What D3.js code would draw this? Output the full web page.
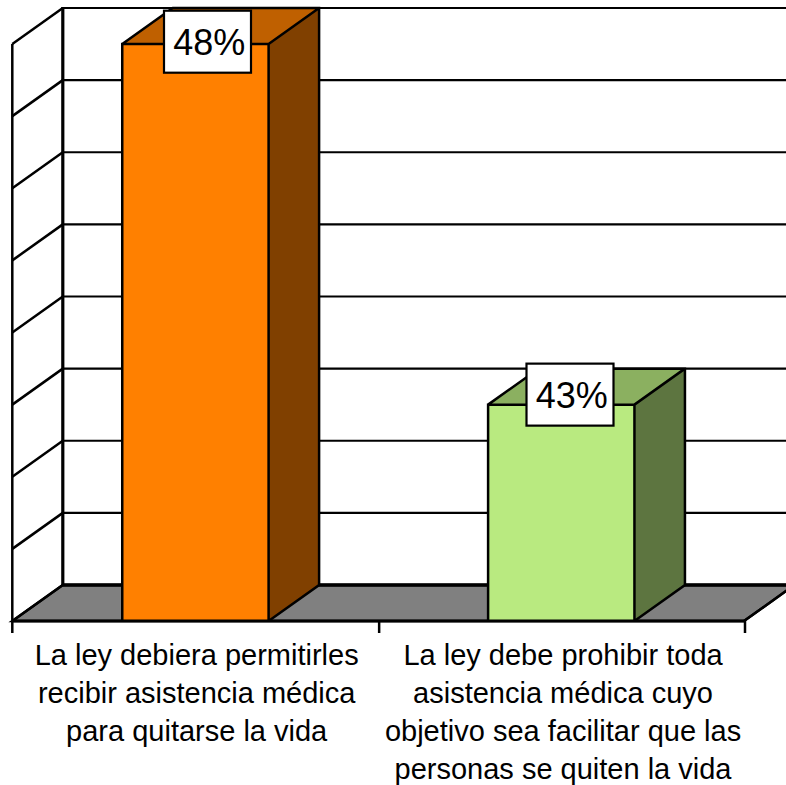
<!DOCTYPE html>
<html><head><meta charset="utf-8">
<script src="https://cdn.jsdelivr.net/npm/d3@7"></script>
<style>html,body{margin:0;padding:0;background:#fff;overflow:hidden}svg{display:block}text{font-family:"Liberation Sans",Arial,sans-serif;fill:#000}</style>
</head><body><svg id="c" width="786" height="785"></svg>
<script>
const categories = ["La ley debiera permitirles recibir asistencia médica para quitarse la vida","La ley debe prohibir toda asistencia médica cuyo objetivo sea facilitar que las personas se quiten la vida"];
const categoryLines = [["La ley debiera permitirles","recibir asistencia médica","para quitarse la vida"],["La ley debe prohibir toda","asistencia médica cuyo","objetivo sea facilitar que las","personas se quiten la vida"]];
const values = [48,43];
const labels = ["48%","43%"];
const tickValues = [40,41,42,43,44,45,46,47,48];
const frontColors = ["#ff8000","#b9ea80"];
const topColors = ["#bf6000","#8bb060"];
const sideColors = ["#804000","#5d7540"];

const dx = 50.5, dy = -36, x0 = 12.3, x1 = 744, yB = 621, yT = 44;
const svg = d3.select("#c");
const x = d3.scaleBand().domain(categories).range([x0+0.2,x1+0.2]).paddingInner(0.6).paddingOuter(0.3);
const y = d3.scaleLinear().domain([40,48]).range([yB,yT]);
const labelX = d3.scalePoint().domain(categories).range([207.5,570]);
const pts = a => a.map(p=>p.join(",")).join(" ");
const line = (g,a,b,c,d,w) => g.append("line").attr("x1",a).attr("y1",b).attr("x2",c).attr("y2",d).attr("stroke","#000").attr("stroke-width",w);

const grid = svg.append("g");
grid.append("polygon").attr("points",pts([[x0,yB],[x0+dx,yB+dy],[x1+dx,yB+dy],[x1,yB]])).attr("fill","#808080").attr("stroke","#000").attr("stroke-width",2.5);
tickValues.forEach(t=>{
  line(grid,x0+dx,y(t)+dy,786,y(t)+dy,t===40?3.5:2.2);
  line(grid,x0,y(t),x0+dx,y(t)+dy,2.5);
});
line(grid,x0+dx,yT+dy-1,x0+dx,yB+dy+1,3.2);
line(grid,x0,yT,x0,yB,2.5);

const bars = svg.append("g").selectAll("g").data(categories).join("g");
bars.each(function(c,i){
  const g = d3.select(this), a = x(c), b = a + x.bandwidth(), v = y(values[i]);
  g.append("polygon").attr("points",pts([[a,v],[a+dx,v+dy],[b+dx,v+dy],[b,v]])).attr("fill",topColors[i]);
  g.append("polygon").attr("points",pts([[b,v],[b+dx,v+dy],[b+dx,yB+dy],[b,yB]])).attr("fill",sideColors[i]);
  g.append("rect").attr("x",a).attr("y",v).attr("width",b-a).attr("height",yB-v).attr("fill",frontColors[i]);
  g.selectAll("path").data([0]).join("path")
   .attr("d",`M${a},${yB}V${v}H${b}V${yB}M${a},${v}L${a+dx},${v+dy}H${b+dx}V${yB+dy}L${b},${yB}M${b},${v}L${b+dx},${v+dy}`)
   .attr("fill","none").attr("stroke","#000").attr("stroke-width",2.5).attr("stroke-linejoin","miter");
});
const axis = svg.append("g");
line(axis,x0,yB,x1,yB,3.2);
const tickX = d3.scaleLinear().domain([0,categories.length]).range([x0,x1+1]);
d3.range(categories.length+1).forEach(i=>line(axis,tickX(i)+(i===1?0.5:0),yB,tickX(i)+(i===1?0.5:0),yB+12,2.5));
line(axis,x1,yB,x1+dx,yB+dy,2.5);

const lab = svg.append("g");
categories.forEach((c,i)=>{
  const v = y(values[i]);
  const cx = labelX(c), cy = Math.max(v-10,41.7);
  lab.append("rect").attr("x",cx-43.5).attr("y",cy-31).attr("width",87).attr("height",62)
    .attr("fill","#fff").attr("stroke","#000").attr("stroke-width",2.2);
  lab.append("text").attr("x",cx+1.7).attr("y",cy+13).attr("text-anchor","middle").attr("font-size",36).text(labels[i]);
});
const catScale = d3.scaleBand().domain(categories).range([x0,x1+1]);
categories.forEach((c,i)=>{
  categoryLines[i].forEach((s,j)=>{
    svg.append("text").attr("x",catScale(c)+catScale.bandwidth()/2+1.2).attr("y",665+j*38).attr("text-anchor","middle").attr("font-size",29).text(s);
  });
});
</script></body></html>
